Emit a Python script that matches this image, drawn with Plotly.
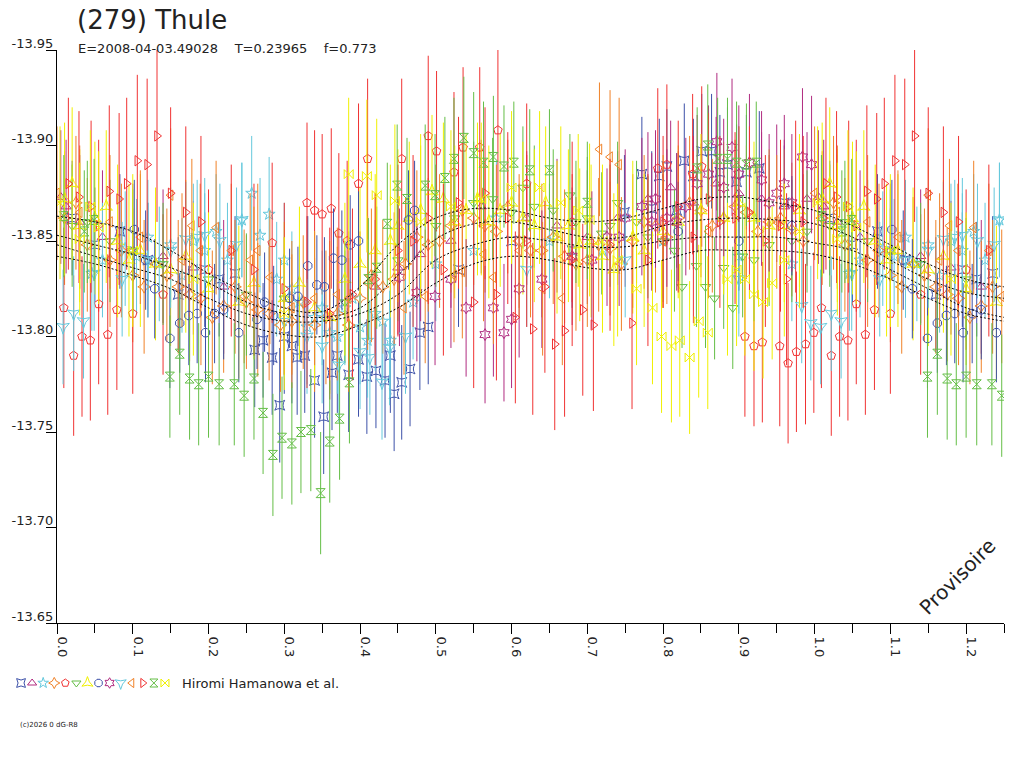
import plotly.graph_objects as go

# phase / reduced magnitude readings, one pair of lists per observing set (phase 0..1)
s01_x = [0.02, 0.05, 0.083, 0.12, 0.16, 0.195, 0.214, 0.235, 0.261, 0.272, 0.284, 0.294, 0.317, 0.327, 0.340, 0.352, 0.363, 0.385, 0.398, 0.409, 0.421, 0.433, 0.445, 0.455, 0.466, 0.479, 0.490, 0.53, 0.60, 0.68, 0.749, 0.772, 0.785, 0.795, 0.805, 0.818, 0.828, 0.840, 0.851, 0.864, 0.875, 0.885, 0.897, 0.910, 0.927, 0.96,
         0.30, 0.31, 0.37, 0.44]
s01_y = [-13.862, -13.848, -13.855, -13.840, -13.822, -13.835, -13.830, -13.833, -13.793, -13.798, -13.789, -13.764, -13.789, -13.790, -13.777, -13.758, -13.781, -13.780, -13.788, -13.779, -13.782, -13.777, -13.770, -13.776, -13.783, -13.802, -13.805, -13.835, -13.850, -13.845, -13.865, -13.885, -13.867, -13.884, -13.889, -13.866, -13.892, -13.884, -13.897, -13.897, -13.886, -13.890, -13.881, -13.886, -13.888, -13.870,
         -13.800, -13.795, -13.790, -13.790]

s02_x = [0.005, 0.012, 0.03, 0.06, 0.10, 0.14, 0.18, 0.22, 0.42, 0.45, 0.48, 0.52, 0.56, 0.62, 0.66, 0.70, 0.74, 0.78, 0.81, 0.84, 0.87, 0.90, 0.93, 0.96, 0.99]
s02_y = [-13.873, -13.868, -13.860, -13.852, -13.845, -13.842, -13.836, -13.826, -13.826, -13.836, -13.843, -13.850, -13.868, -13.862, -13.858, -13.852, -13.862, -13.872, -13.878, -13.870, -13.880, -13.875, -13.872, -13.868, -13.872]

s03_x = [0.046, 0.06, 0.09, 0.12, 0.15, 0.18, 0.21, 0.244, 0.257, 0.268, 0.280, 0.30, 0.32, 0.34, 0.36, 0.38, 0.40, 0.42, 0.44, 0.47, 0.50, 0.55, 0.58, 0.65, 0.72, 0.80, 0.90, 0.97,
         0.105, 0.135, 0.165, 0.195, 0.225, 0.29, 0.31, 0.33, 0.35, 0.37, 0.39, 0.41, 0.43]
s03_y = [-13.833, -13.840, -13.846, -13.852, -13.848, -13.850, -13.855, -13.861, -13.875, -13.853, -13.864, -13.840, -13.818, -13.810, -13.802, -13.815, -13.805, -13.812, -13.798, -13.818, -13.838, -13.845, -13.862, -13.850, -13.845, -13.850, -13.842, -13.838,
         -13.842, -13.838, -13.832, -13.845, -13.840, -13.830, -13.825, -13.805, -13.815, -13.800, -13.820, -13.798, -13.808]

s04_x = [0.01, 0.04, 0.07, 0.10, 0.13, 0.16, 0.19, 0.22, 0.25, 0.28, 0.31, 0.34, 0.37, 0.40, 0.43, 0.46, 0.49, 0.52, 0.55, 0.58, 0.61, 0.64, 0.67, 0.70, 0.73, 0.76, 0.79, 0.82, 0.85, 0.88, 0.91, 0.94, 0.97,
         0.025, 0.085, 0.115, 0.145, 0.175, 0.205, 0.235, 0.265, 0.295, 0.325, 0.355, 0.385, 0.415, 0.445, 0.475, 0.505, 0.535, 0.565, 0.595, 0.625, 0.655, 0.685, 0.715, 0.745, 0.775, 0.805, 0.835, 0.865, 0.895, 0.925, 0.955, 0.985]
s04_y = [-13.862, -13.848, -13.840, -13.832, -13.838, -13.826, -13.820, -13.816, -13.818, -13.812, -13.808, -13.806, -13.812, -13.820, -13.826, -13.838, -13.848, -13.858, -13.862, -13.855, -13.850, -13.845, -13.842, -13.840, -13.846, -13.850, -13.858, -13.862, -13.866, -13.862, -13.865, -13.860, -13.856,
         -13.870, -13.845, -13.826, -13.832, -13.822, -13.810, -13.826, -13.814, -13.806, -13.818, -13.810, -13.806, -13.832, -13.830, -13.852, -13.850, -13.866, -13.858, -13.868, -13.845, -13.852, -13.838, -13.848, -13.838, -13.860, -13.852, -13.870, -13.858, -13.868, -13.855, -13.862, -13.850]

s05_x = [0.009, 0.022, 0.033, 0.044, 0.055, 0.067, 0.079, 0.10, 0.14, 0.20, 0.284, 0.330, 0.340, 0.350, 0.362, 0.372, 0.383, 0.398, 0.410, 0.455, 0.490, 0.501, 0.524, 0.536, 0.558, 0.582, 0.62, 0.68, 0.793, 0.805, 0.839, 0.851, 0.908, 0.920, 0.931, 0.954, 0.965, 0.976, 0.988, 0.999]
s05_y = [-13.815, -13.790, -13.800, -13.798, -13.817, -13.801, -13.814, -13.812, -13.822, -13.835, -13.849, -13.870, -13.866, -13.864, -13.867, -13.854, -13.850, -13.880, -13.893, -13.893, -13.905, -13.897, -13.886, -13.899, -13.899, -13.908, -13.880, -13.860, -13.888, -13.890, -13.885, -13.889, -13.800, -13.795, -13.797, -13.795, -13.786, -13.792, -13.796, -13.802]

s06_x = [0.04, 0.10, 0.20, 0.30, 0.45, 0.55, 0.60, 0.63, 0.677, 0.70, 0.719, 0.740, 0.765, 0.80, 0.825, 0.844, 0.856, 0.868, 0.892, 0.92, 0.97,
         0.02, 0.07, 0.14, 0.25, 0.38, 0.50, 0.525, 0.575, 0.615, 0.655, 0.685, 0.73, 0.78, 0.815, 0.88, 0.905, 0.94, 0.99]
s06_y = [-13.860, -13.845, -13.830, -13.820, -13.840, -13.870, -13.865, -13.868, -13.874, -13.862, -13.854, -13.870, -13.860, -13.850, -13.826, -13.837, -13.826, -13.820, -13.815, -13.840, -13.850,
         -13.858, -13.850, -13.838, -13.822, -13.818, -13.858, -13.862, -13.872, -13.878, -13.866, -13.860, -13.858, -13.852, -13.845, -13.836, -13.842, -13.848, -13.855]

s07_x = [0.01, 0.03, 0.05, 0.08, 0.11, 0.15, 0.20, 0.26, 0.30, 0.34, 0.38, 0.42, 0.45, 0.48, 0.51, 0.54, 0.57, 0.60, 0.63, 0.66, 0.69, 0.72, 0.76, 0.82, 0.88, 0.92, 0.96,
         0.02, 0.065, 0.095, 0.13, 0.17, 0.24, 0.32, 0.36, 0.40, 0.44, 0.465, 0.495, 0.525, 0.555, 0.585, 0.615, 0.645, 0.675, 0.705, 0.735, 0.775, 0.80, 0.85, 0.90, 0.94, 0.98]
s07_y = [-13.872, -13.858, -13.862, -13.850, -13.845, -13.835, -13.825, -13.828, -13.820, -13.815, -13.830, -13.845, -13.858, -13.866, -13.872, -13.866, -13.860, -13.870, -13.858, -13.852, -13.848, -13.842, -13.852, -13.860, -13.862, -13.862, -13.858,
         -13.880, -13.868, -13.840, -13.838, -13.842, -13.818, -13.828, -13.810, -13.838, -13.850, -13.862, -13.876, -13.860, -13.872, -13.866, -13.862, -13.870, -13.858, -13.850, -13.835, -13.845, -13.855, -13.866, -13.870, -13.858, -13.866]

s08_x = [0.102, 0.117, 0.129, 0.149, 0.162, 0.174, 0.185, 0.196, 0.208, 0.220, 0.240, 0.264, 0.274, 0.286, 0.307, 0.318, 0.331, 0.343, 0.353, 0.365, 0.376, 0.387, 0.398, 0.464, 0.472, 0.82, 0.90, 0.97]
s08_y = [-13.856, -13.840, -13.825, -13.799, -13.807, -13.811, -13.812, -13.802, -13.812, -13.814, -13.802, -13.809, -13.818, -13.811, -13.820, -13.821, -13.837, -13.827, -13.826, -13.841, -13.840, -13.848, -13.850, -13.861, -13.866, -13.855, -13.850, -13.858]

s09_x = [0.452, 0.475, 0.499, 0.52, 0.565, 0.576, 0.590, 0.600, 0.64, 0.706, 0.726, 0.742, 0.772, 0.785, 0.805, 0.818, 0.845, 0.871, 0.891, 0.90, 0.914, 0.93, 0.95, 0.97, 0.984, 0.996,
         0.75, 0.79, 0.83, 0.86, 0.88, 0.94, 0.96, 0.54, 0.61, 0.68]
s09_y = [-13.831, -13.823, -13.821, -13.830, -13.801, -13.815, -13.802, -13.809, -13.830, -13.840, -13.852, -13.852, -13.868, -13.860, -13.862, -13.860, -13.880, -13.902, -13.899, -13.885, -13.891, -13.882, -13.875, -13.870, -13.894, -13.890,
         -13.862, -13.872, -13.868, -13.885, -13.878, -13.870, -13.880, -13.815, -13.825, -13.842]

s10_x = [0.008, 0.022, 0.035, 0.049, 0.086, 0.12, 0.15, 0.17, 0.185, 0.195, 0.215, 0.237, 0.244, 0.30, 0.33, 0.35, 0.372, 0.40, 0.413, 0.429, 0.439, 0.46, 0.62, 0.75, 0.90, 0.983, 0.995]
s10_y = [-13.805, -13.812, -13.808, -13.833, -13.830, -13.840, -13.845, -13.851, -13.852, -13.853, -13.850, -13.848, -13.861, -13.808, -13.800, -13.795, -13.785, -13.792, -13.789, -13.776, -13.794, -13.800, -13.835, -13.840, -13.830, -13.816, -13.807]

s11_x = [0.00, 0.03, 0.07, 0.11, 0.150, 0.165, 0.178, 0.189, 0.210, 0.230, 0.247, 0.255, 0.265, 0.281, 0.31, 0.34, 0.37, 0.385, 0.41, 0.458, 0.486, 0.524, 0.535, 0.563, 0.576, 0.61, 0.641, 0.667, 0.716, 0.730, 0.742, 0.80, 0.86, 0.95]
s11_y = [-13.875, -13.865, -13.860, -13.852, -13.874, -13.840, -13.858, -13.845, -13.857, -13.845, -13.821, -13.840, -13.845, -13.831, -13.815, -13.820, -13.822, -13.820, -13.828, -13.815, -13.821, -13.832, -13.834, -13.843, -13.831, -13.845, -13.825, -13.820, -13.898, -13.894, -13.890, -13.850, -13.855, -13.860]

s12_x = [0.029, 0.045, 0.069, 0.082, 0.092, 0.106, 0.119, 0.132, 0.17, 0.23, 0.30, 0.36, 0.42, 0.47, 0.51, 0.55, 0.58, 0.605, 0.628, 0.644, 0.657, 0.670, 0.694, 0.708, 0.759, 0.78, 0.84, 0.875, 0.895, 0.914, 0.935, 0.963, 0.985,
         0.015, 0.055, 0.15, 0.19, 0.26, 0.33, 0.39, 0.45, 0.49, 0.53, 0.565, 0.595, 0.62, 0.68, 0.73, 0.80, 0.82, 0.86, 0.955, 0.975]
s12_y = [-13.873, -13.868, -13.876, -13.872, -13.880, -13.892, -13.890, -13.905, -13.865, -13.845, -13.825, -13.812, -13.830, -13.850, -13.835, -13.818, -13.822, -13.810, -13.804, -13.826, -13.796, -13.803, -13.814, -13.806, -13.807, -13.840, -13.852, -13.860, -13.862, -13.865, -13.850, -13.830, -13.860,
         -13.880, -13.858, -13.875, -13.860, -13.835, -13.818, -13.822, -13.845, -13.862, -13.870, -13.875, -13.862, -13.850, -13.840, -13.848, -13.860, -13.868, -13.872, -13.858, -13.868]

s13_x = [0.009, 0.036, 0.049, 0.149, 0.162, 0.175, 0.187, 0.200, 0.214, 0.234, 0.247, 0.260, 0.272, 0.285, 0.297, 0.310, 0.322, 0.335, 0.348, 0.360, 0.373, 0.386, 0.411, 0.422, 0.436, 0.449, 0.462, 0.486, 0.499, 0.512, 0.524, 0.537, 0.550, 0.563, 0.576, 0.590, 0.603, 0.624, 0.650, 0.70, 0.845, 0.859, 0.872, 0.885, 0.897, 0.910, 0.923]
s13_y = [-13.863, -13.855, -13.861, -13.779, -13.791, -13.778, -13.775, -13.779, -13.775, -13.775, -13.769, -13.778, -13.760, -13.738, -13.747, -13.744, -13.750, -13.751, -13.718, -13.745, -13.757, -13.776, -13.830, -13.836, -13.859, -13.879, -13.872, -13.879, -13.874, -13.883, -13.893, -13.904, -13.896, -13.891, -13.894, -13.889, -13.891, -13.887, -13.887, -13.870, -13.888, -13.900, -13.893, -13.893, -13.891, -13.890, -13.891]

s14_x = [0.004, 0.030, 0.044, 0.055, 0.10, 0.18, 0.30, 0.385, 0.409, 0.422, 0.446, 0.48, 0.52, 0.56, 0.60, 0.637, 0.665, 0.688, 0.703, 0.72, 0.740, 0.765, 0.786, 0.798, 0.811, 0.822, 0.835, 0.847, 0.859, 0.885, 0.897, 0.908, 0.920, 0.932, 0.944, 0.96, 0.98]
s14_y = [-13.870, -13.851, -13.868, -13.857, -13.845, -13.830, -13.812, -13.885, -13.884, -13.874, -13.871, -13.860, -13.868, -13.872, -13.878, -13.878, -13.870, -13.866, -13.861, -13.850, -13.840, -13.825, -13.815, -13.800, -13.795, -13.798, -13.789, -13.808, -13.802, -13.830, -13.835, -13.830, -13.822, -13.818, -13.828, -13.840, -13.855]

# typical error bar half-length per set (mag)
set_err = [0.030, 0.035, 0.030, 0.035, 0.042, 0.032, 0.040, 0.026, 0.036, 0.030, 0.035, 0.045, 0.032, 0.040]
set_color = ["#3c50a8", "#b02c80", "#64c8dc", "#f08228", "#f03232", "#64be46", "#f0f000",
             "#3c50a8", "#b02c80", "#64c8dc", "#f08228", "#f03232", "#64be46", "#f0f000"]
set_symbol = ["star-square-open", "triangle-up-open", "star-open", "star-diamond-open", "pentagon-open",
              "triangle-down-open", "star-triangle-up-open", "octagon-open", "hexagram-open",
              "star-triangle-down-open", "triangle-left-open", "triangle-right-open", "hourglass-open", "bowtie-open"]

# fitted curves (dotted), read at these phases
curve_x = [0.00, 0.05, 0.10, 0.15, 0.20, 0.25, 0.30, 0.35, 0.40, 0.45, 0.50, 0.55, 0.60, 0.65, 0.70, 0.75, 0.80, 0.85, 0.90, 0.95, 1.00, 1.05, 1.10, 1.15, 1.20, 1.25]
curve_a = [-13.863, -13.860, -13.855, -13.845, -13.833, -13.823, -13.815, -13.813, -13.826, -13.848, -13.862, -13.867, -13.866, -13.862, -13.860, -13.862, -13.867, -13.872, -13.873, -13.870, -13.866, -13.858, -13.848, -13.838, -13.830, -13.826]
curve_b = [-13.853, -13.848, -13.843, -13.836, -13.828, -13.818, -13.812, -13.810, -13.815, -13.832, -13.851, -13.859, -13.860, -13.856, -13.852, -13.852, -13.858, -13.861, -13.862, -13.861, -13.859, -13.852, -13.840, -13.830, -13.823, -13.820]
curve_c = [-13.848, -13.842, -13.836, -13.830, -13.820, -13.812, -13.808, -13.808, -13.812, -13.822, -13.840, -13.848, -13.852, -13.850, -13.847, -13.847, -13.850, -13.852, -13.852, -13.852, -13.849, -13.845, -13.835, -13.825, -13.815, -13.810]
curve_d = [-13.842, -13.838, -13.832, -13.825, -13.815, -13.806, -13.801, -13.800, -13.806, -13.815, -13.828, -13.838, -13.842, -13.840, -13.836, -13.835, -13.840, -13.845, -13.845, -13.845, -13.843, -13.838, -13.830, -13.820, -13.812, -13.808]

y_ticks = [-13.95, -13.90, -13.85, -13.80, -13.75, -13.70, -13.65]
x_ticks = [0.0, 0.1, 0.2, 0.3, 0.4, 0.5, 0.6, 0.7, 0.8, 0.9, 1.0, 1.1, 1.2]

all_x = [s01_x, s02_x, s03_x, s04_x, s05_x, s06_x, s07_x, s08_x, s09_x, s10_x, s11_x, s12_x, s13_x, s14_x]
all_y = [s01_y, s02_y, s03_y, s04_y, s05_y, s06_y, s07_y, s08_y, s09_y, s10_y, s11_y, s12_y, s13_y, s14_y]

W, H = 1024, 768
font = "DejaVu Sans, Liberation Sans, sans-serif"

fig = go.Figure()

for xs, ys, err, col, sym in zip(all_x, all_y, set_err, set_color, set_symbol):
    # phases below 0.25 are shown again after 1.0
    xx = xs + [x + 1 for x in xs if x < 0.25]
    yy = ys + [y for x, y in zip(xs, ys) if x < 0.25]
    fig.add_trace(go.Scatter(
        x=xx, y=yy, mode="markers",
        marker=dict(symbol=sym, size=9, color=col, line=dict(width=1, color=col)),
        error_y=dict(type="constant", value=err, color=col, thickness=1, width=0),
        showlegend=False, hoverinfo="skip"))

for cy in [curve_a, curve_b, curve_c, curve_d]:
    fig.add_trace(go.Scatter(x=curve_x, y=cy, mode="lines", line_shape="spline",
                             line=dict(color="black", width=1, dash="2px,2px"),
                             showlegend=False, hoverinfo="skip"))

# legend row of symbols
fig.add_trace(go.Scatter(
    x=list(range(len(set_symbol))), y=[0] * len(set_symbol), mode="markers",
    marker=dict(symbol=set_symbol, size=8, color=set_color, line=dict(width=1, color=set_color)),
    xaxis="x2", yaxis="y2", showlegend=False, hoverinfo="skip"))

fig.update_layout(
    width=W, height=H, margin=dict(l=0, r=0, t=0, b=0, autoexpand=False),
    paper_bgcolor="white", plot_bgcolor="white",
    font=dict(family=font, size=13, color="#222"),
    xaxis=dict(domain=[57 / W, 1004 / W], range=[0, 1.25], tickvals=x_ticks, automargin=False,
               ticktext=[f"{v:.1f}" for v in x_ticks], tickangle=90, ticks="outside", ticklen=10,
               tickcolor="black", showline=True, linecolor="black", linewidth=1, showgrid=False,
               zeroline=False, ticklabelshift=5,
               minor=dict(dtick=0.05, tick0=0.05, ticks="outside", ticklen=9, tickcolor="black", showgrid=False)),
    yaxis=dict(domain=[1 - 623 / H, 1 - 50 / H], range=[-13.65, -13.95], automargin=False,
               tickvals=y_ticks, ticktext=[f"{v:.2f}" for v in y_ticks],
               ticks="outside", ticklen=10, tickcolor="black", showline=True, linecolor="black",
               linewidth=1, showgrid=False, zeroline=False, ticklabelstandoff=-10, ticklabelshift=7),
    xaxis2=dict(domain=[15.5 / W, 170.5 / W], range=[-0.5, 13.5], visible=False, anchor="y2", automargin=False),
    yaxis2=dict(domain=[1 - 693 / H, 1 - 673 / H], range=[-1, 1], visible=False, anchor="x2", automargin=False),
)

nb = "\u00a0" * 4
fig.add_annotation(text="(279) Thule", x=75 / W, y=1 - 20 / H, xref="paper", yref="paper",
                   xanchor="left", yanchor="middle", showarrow=False, font=dict(size=26, color="#222"))
fig.add_annotation(text=f"E=2008-04-03.49028{nb}T=0.23965{nb}f=0.773", x=76 / W, y=1 - 48 / H,
                   xref="paper", yref="paper", xanchor="left", yanchor="middle", showarrow=False,
                   font=dict(size=13, color="#222"))
fig.add_annotation(text="Hiromi Hamanowa et al.", x=180 / W, y=1 - 683 / H, xref="paper", yref="paper",
                   xanchor="left", yanchor="middle", showarrow=False, font=dict(size=13, color="#222"))
fig.add_annotation(text="(c)2026 0 dG-R8", x=18 / W, y=1 - 725 / H, xref="paper", yref="paper",
                   xanchor="left", yanchor="middle", showarrow=False, font=dict(size=7, color="#222"))
fig.add_annotation(text="Provisoire", x=957 / W, y=1 - 577 / H, xref="paper", yref="paper",
                   xanchor="center", yanchor="middle", showarrow=False, textangle=-45,
                   font=dict(size=20, color="#222"))

fig.write_html("out.html", config={"displayModeBar": False},
               post_script="document.body.style.margin='0';")
